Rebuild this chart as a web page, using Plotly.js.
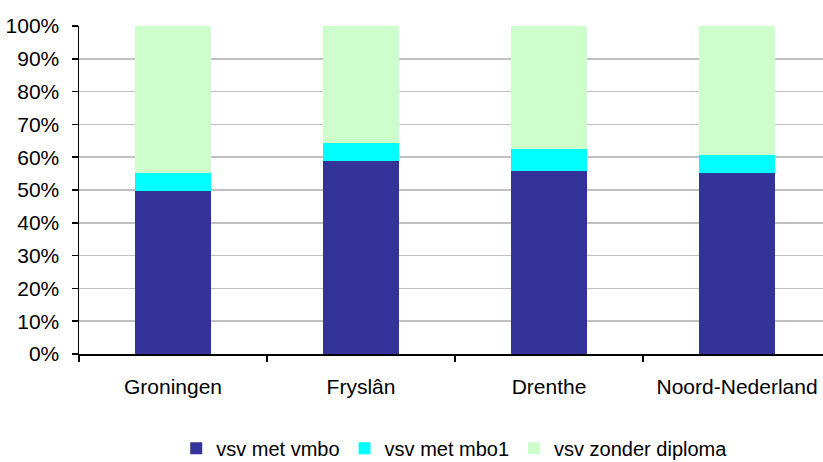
<!DOCTYPE html>
<html>
<head>
<meta charset="utf-8">
<script src="https://cdn.plot.ly/plotly-3.0.1.min.js"></script>
<style>html,body{margin:0;padding:0;background:#fff;}#chart{width:823px;height:462px;}</style>
</head>
<body>
<div id="chart"></div>
<script>
const categories = ["Groningen", "Fryslân", "Drenthe", "Noord-Nederland"];
const vsvMetVmbo = [0.496, 0.588, 0.558, 0.552];
const vsvMetMbo1 = [0.055, 0.055, 0.067, 0.055];
const vsvZonderDiploma = [0.449, 0.357, 0.375, 0.393];
const seriesNames = ["vsv met vmbo", "vsv met mbo1", "vsv zonder diploma"];
const seriesColors = ["#333399", "#00FFFF", "#CCFFCC"];
const yTickValues = [0, 0.1, 0.2, 0.3, 0.4, 0.5, 0.6, 0.7, 0.8, 0.9, 1.0];

const seriesValues = [vsvMetVmbo, vsvMetMbo1, vsvZonderDiploma];
const traces = seriesValues.map((vals, i) => ({
  type: "bar",
  x: categories,
  y: vals,
  name: seriesNames[i],
  marker: {color: seriesColors[i], line: {width: 0}},
  hoverinfo: "none"
}));

const layout = {
  width: 823,
  height: 462,
  margin: {l: 79, r: 0, t: 26, b: 108, pad: 0, autoexpand: false},
  paper_bgcolor: "#ffffff",
  plot_bgcolor: "#ffffff",
  font: {family: "Liberation Sans, Arial, sans-serif", size: 21, color: "#000000"},
  barmode: "stack",
  bargap: 0.595,
  showlegend: true,
  legend: {
    orientation: "h",
    x: 0.505, xanchor: "center",
    y: -0.287, yanchor: "middle",
    font: {size: 20, color: "#000000"},
    itemwidth: 30,
    traceorder: "normal"
  },
  xaxis: {
    type: "category",
    range: [-0.5, 3.457],
    automargin: false,
    tickangle: 0,
    showline: true, linecolor: "#000000", linewidth: 1.5,
    ticks: "outside", ticklen: 6, tickwidth: 1.5, tickcolor: "#000000",
    tickson: "boundaries",
    ticklabelstandoff: 13,
    showgrid: false,
    zeroline: false,
    fixedrange: true
  },
  yaxis: {
    range: [0, 1],
    automargin: false,
    tickvals: yTickValues,
    tickformat: ".0%",
    showline: true, linecolor: "#000000", linewidth: 1.5,
    ticks: "outside", ticklen: 6, tickwidth: 1.5, tickcolor: "#000000",
    ticklabelstandoff: 8,
    showgrid: true, gridcolor: "#c0c0c0", gridwidth: 1.5,
    zeroline: false,
    fixedrange: true
  }
};

Plotly.newPlot("chart", traces, layout, {staticPlot: true, displayModeBar: false});
</script>
</body>
</html>
